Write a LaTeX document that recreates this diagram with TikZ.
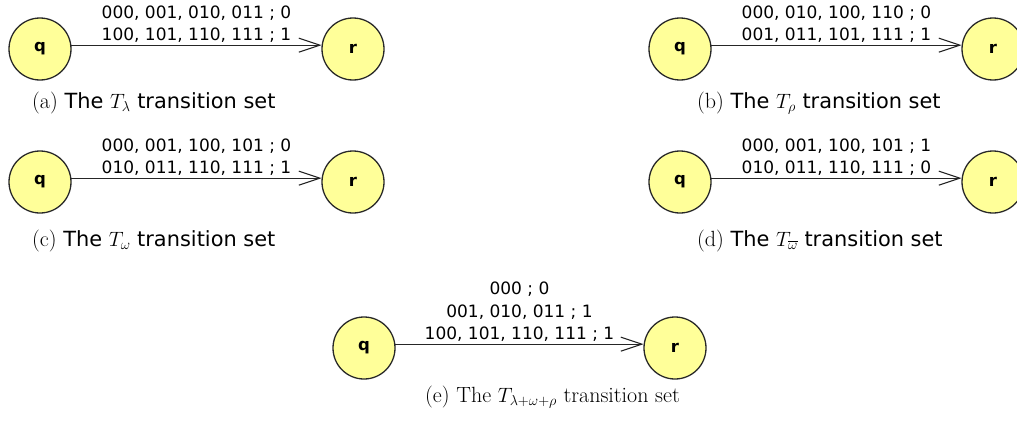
\documentclass[tikz,border=0pt]{standalone}
\usepackage{fontspec}
\usetikzlibrary{arrows.meta}
\newfontfamily\lblfont{DejaVu Sans}
\newfontfamily\capsf[Scale=0.95]{DejaVu Sans}
\definecolor{stfill}{RGB}{255,255,153}
\definecolor{stdraw}{RGB}{40,40,40}
\tikzset{
  state/.style={circle, draw=stdraw, line width=1.3pt, fill=stfill, minimum size=62pt, inner sep=0pt,
    font=\lblfont\bfseries\fontsize{16.5}{20}\selectfont},
  trans/.style={draw=black!85, line width=1.1pt, -{Straight Barb[length=21pt,width=14pt,line width=1.1pt]}},
  lbl/.style={above, align=center, inner sep=2pt,
    font=\lblfont\fontsize{17}{22.5}\selectfont},
  capt/.style={font=\fontsize{22}{26}\selectfont, inner sep=0pt, anchor=base west}
}
\begin{document}
\begin{tikzpicture}[x=1pt,y=-1pt]
\useasboundingbox (0,0) rectangle (1017,431);
% (a)
\node[state] (qa) at (40,49) {q};
\node[state] (ra) at (353,49) {r};
\draw[trans] (qa.7) -- node[lbl] {000, 001, 010, 011 ; 0\\100, 101, 110, 111 ; 1} (ra.173);
\node[capt] (ca) at (32,108) {(a) {\capsf The} $T_\lambda$ {\capsf transition set}};
% (b)
\node[state] (qb) at (680,49) {q};
\node[state] (rb) at (993,49) {r};
\draw[trans] (qb.7) -- node[lbl] {000, 010, 100, 110 ; 0\\001, 011, 101, 111 ; 1} (rb.173);
\node[capt] (cb) at (697,108) {(b) {\capsf The} $T_\rho$ {\capsf transition set}};
% (c)
\node[state] (qc) at (40,182) {q};
\node[state] (rc) at (353,182) {r};
\draw[trans] (qc.7) -- node[lbl] {000, 001, 100, 101 ; 0\\010, 011, 110, 111 ; 1} (rc.173);
\node[capt] (cc) at (32,246) {(c) {\capsf The} $T_\omega$ {\capsf transition set}};
% (d)
\node[state] (qd) at (680,182) {q};
\node[state] (rd) at (993,182) {r};
\draw[trans] (qd.7) -- node[lbl] {000, 001, 100, 101 ; 1\\010, 011, 110, 111 ; 0} (rd.173);
\node[capt] (cd) at (697,246) {(d) {\capsf The} $T_{\overline{\omega}}$ {\capsf transition set}};
% (e)
\node[state] (qe) at (364,348) {q};
\node[state] (re) at (675,348) {r};
\draw[trans] (qe.7) -- node[lbl] {000 ; 0\\001, 010, 011 ; 1\\100, 101, 110, 111 ; 1} (re.173);
\node[capt] (ce) at (425,402) {(e) The $T_{\lambda+\omega+\rho}$ transition set};
\end{tikzpicture}
\end{document}
